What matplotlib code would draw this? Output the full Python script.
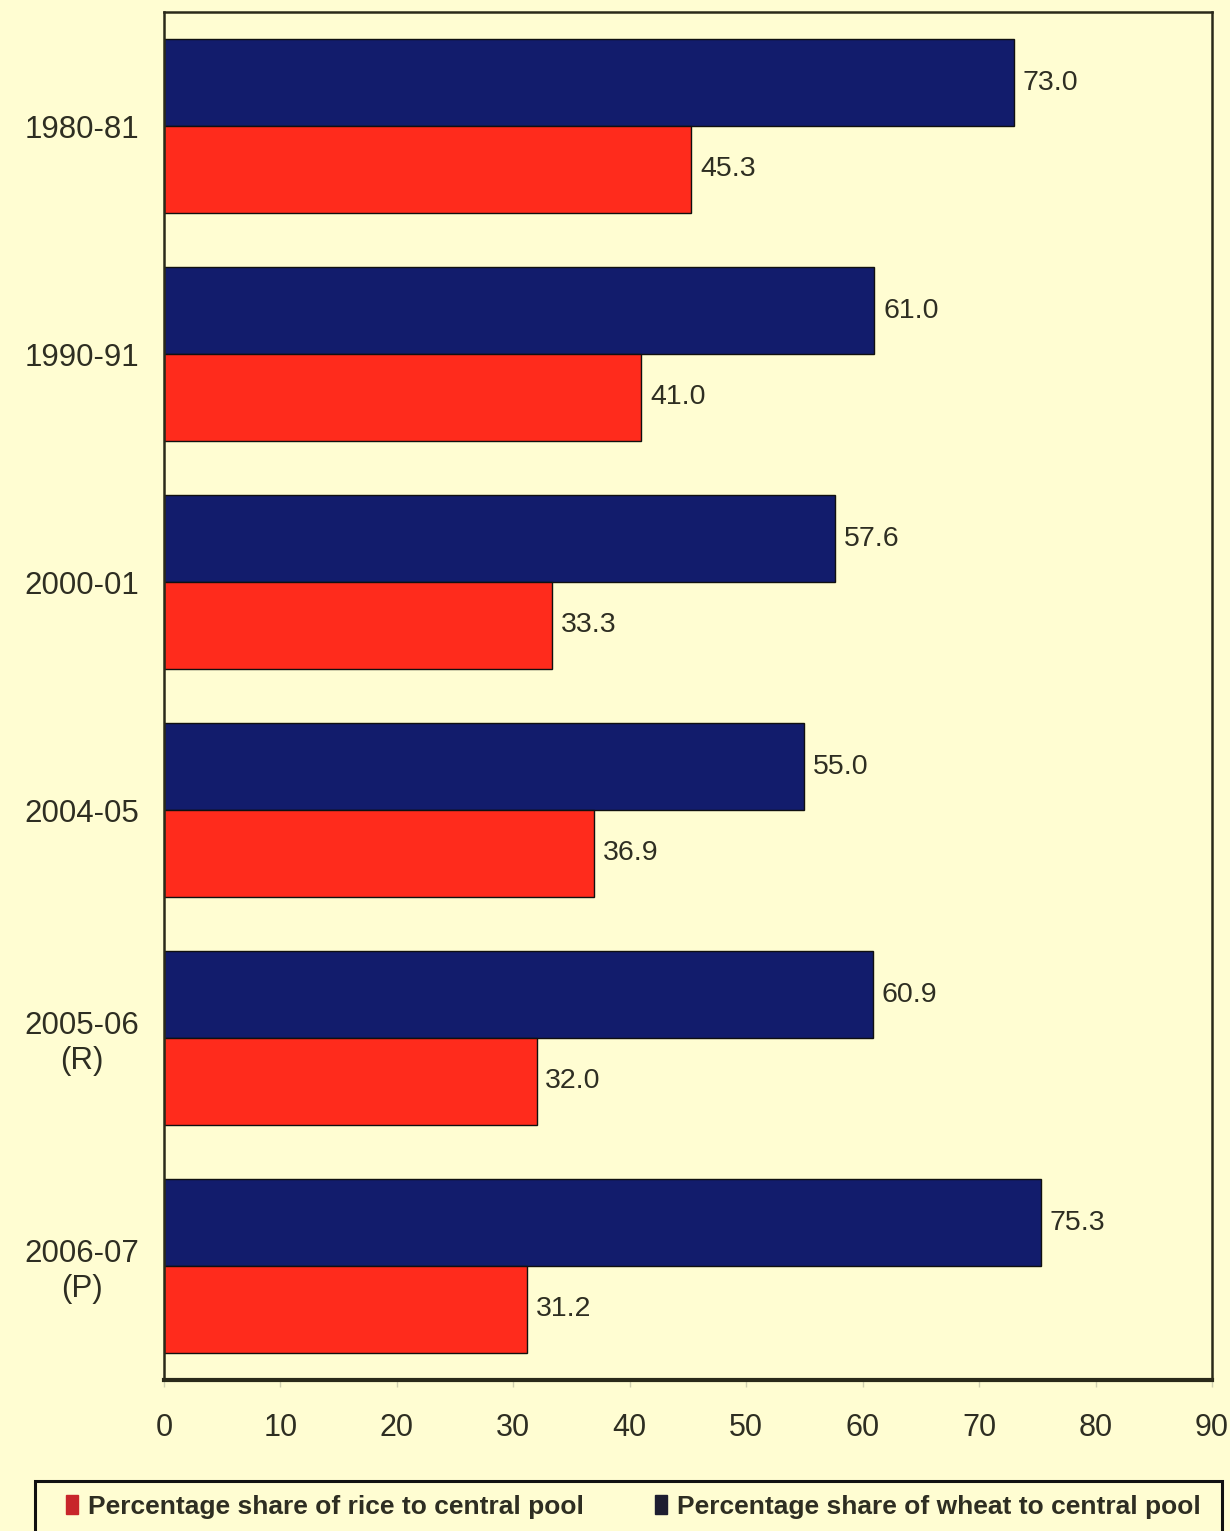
import matplotlib
matplotlib.use("Agg")
import matplotlib.pyplot as plt
from matplotlib.patches import Patch, Rectangle
import numpy as np

categories = ["1980-81", "1990-91", "2000-01", "2004-05", "2005-06\n(R)", "2006-07\n(P)"]
wheat = [73.0, 61.0, 57.6, 55.0, 60.9, 75.3]
rice = [45.3, 41.0, 33.3, 36.9, 32.0, 31.2]
xticks = [0, 10, 20, 30, 40, 50, 60, 70, 80, 90]

bg = "#FFFDD2"
blue = "#121C6C"
red = "#FF2B1C"
txt = "#2E2E22"

plt.rcParams["font.family"] = ["Liberation Sans", "DejaVu Sans"]

W, H = 1230, 1531
fig = plt.figure(figsize=(W/100, H/100), dpi=100, facecolor=bg)
ax = fig.add_axes([164/W, 1 - 1380/H, (1212-164)/W, (1380-12)/H])
ax.set_facecolor(bg)

y = np.arange(len(categories))
h = 0.38
ax.barh(y - h/2, wheat, height=h, color=blue, edgecolor="#101010", linewidth=1.0)
ax.barh(y + h/2, rice, height=h, color=red, edgecolor="#101010", linewidth=1.0)

for yy, v in zip(y - h/2, wheat):
    ax.text(v + 0.75, yy, f"{v:.1f}", va="center", ha="left", fontsize=20.5, color=txt)
for yy, v in zip(y + h/2, rice):
    ax.text(v + 0.75, yy, f"{v:.1f}", va="center", ha="left", fontsize=20.5, color=txt)

ax.set_xlim(0, 90)
ax.set_ylim(5.5, -0.5)
ax.set_xticks(xticks)
ax.set_xticklabels([str(t) for t in xticks])
ax.set_yticks(y)
ax.set_yticklabels(categories, multialignment="center")
ax.tick_params(axis="x", length=5, width=1, color="#d0d0b0", pad=19, labelsize=22, labelcolor=txt)
ax.tick_params(axis="y", length=0, pad=18, labelsize=22.5, labelcolor=txt)

for s in ["top", "right", "left"]:
    ax.spines[s].set_color("#2a2a1a")
    ax.spines[s].set_linewidth(1.8)
ax.spines["bottom"].set_color("#2a2a1a")
ax.spines["bottom"].set_linewidth(3)

# legend frame (extends past the bottom edge as in the reference)
fig.patches.append(Rectangle((35/W, -0.02), (1222-35)/W, (1 - 1481/H) + 0.02,
                             transform=fig.transFigure, facecolor="none",
                             edgecolor="#111111", linewidth=2.2))

handles = [Patch(facecolor="#C8262A", edgecolor="#C8262A"),
           Patch(facecolor="#1E1E30", edgecolor="#1E1E30")]
labels = ["Percentage share of rice to central pool", "Percentage share of wheat to central pool"]
leg = fig.legend(handles, labels, loc="center left",
                 bbox_to_anchor=(66/W, 1 - 1507/H),
                 ncol=2, frameon=False,
                 handlelength=0.45, handleheight=0.75, handletextpad=0.38,
                 columnspacing=2.7, borderpad=0, borderaxespad=0,
                 prop={"family": ["Liberation Sans Narrow", "Liberation Sans", "DejaVu Sans"],
                       "weight": "bold", "size": 19})
for t in leg.get_texts():
    t.set_color(txt)

fig.savefig("out.png", dpi=100, facecolor=bg)
